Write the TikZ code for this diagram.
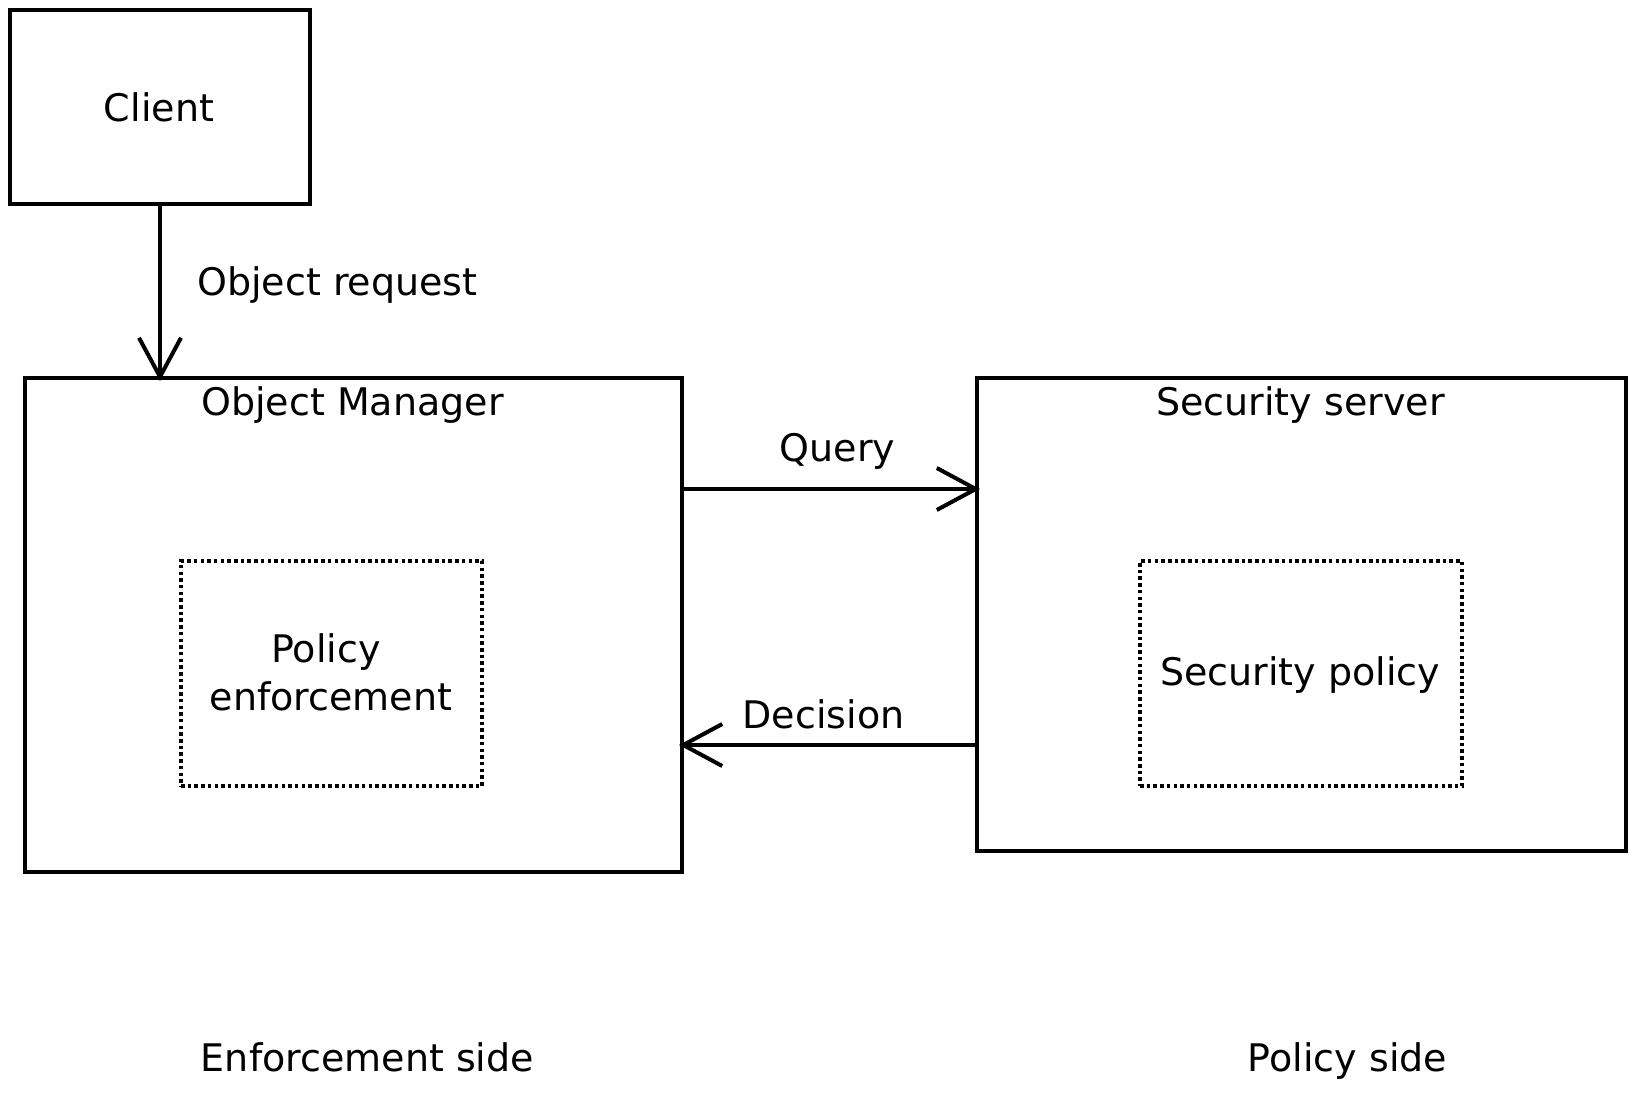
\documentclass[tikz,border=0pt]{standalone}
\usepackage{fontspec}
\setmainfont{DejaVu Sans}
\usetikzlibrary{arrows.meta}
\begin{document}
\begin{tikzpicture}[x=1pt,y=-1pt,
  box/.style={draw,line width=4pt,rectangle,inner sep=0pt},
  dotbox/.style={draw,line width=3.5pt,dash pattern=on 3.5pt off 3.2pt,rectangle,inner sep=0pt},
  txt/.style={anchor=base,inner sep=0pt,font=\fontsize{38}{48}\selectfont},
  arr/.style={line width=4pt,shorten >=-5pt,-{Straight Barb[length=39pt,width=42pt,line width=4pt]}}]
\useasboundingbox (0,0) rectangle (1636,1109);
% boxes
\node[box,minimum width=300pt,minimum height=194pt] (cl) at (160,107) {};
\node[box,minimum width=657pt,minimum height=494pt] (om) at (353.5,625) {};
\node[box,minimum width=649pt,minimum height=473pt] (ss) at (1301.5,614.5) {};
\node[dotbox,minimum width=301pt,minimum height=225pt] (pe) at (331.5,673.5) {};
\node[dotbox,minimum width=322pt,minimum height=225pt] (sp) at (1301,673.5) {};
% texts
\node[txt] (clt) at (159,121) {Client};
\node[txt] (omt) at (352.5,415) {Object Manager};
\node[txt] (sst) at (1300.5,415) {Security server};
\node[txt] (pet1) at (326,662) {Policy};
\node[txt] (pet2) at (331,710) {enforcement};
\node[txt] (spt) at (1300,685) {Security policy};
\node[txt,anchor=base west] (orq) at (197,295) {Object request};
\node[txt] (qt) at (837.5,461) {Query};
\node[txt] (dt) at (823.5,728) {Decision};
\node[txt] (es) at (367.5,1071) {Enforcement side};
\node[txt] (ps) at (1347.5,1071) {Policy side};
% connectors
\coordinate (qy) at (0,489);
\coordinate (dy) at (0,745);
\draw[arr] (cl.south) -- (cl.south |- om.north);
\draw[arr] (om.east |- qy) -- (ss.west |- qy);
\draw[arr] (ss.west |- dy) -- (om.east |- dy);
\end{tikzpicture}
\end{document}
